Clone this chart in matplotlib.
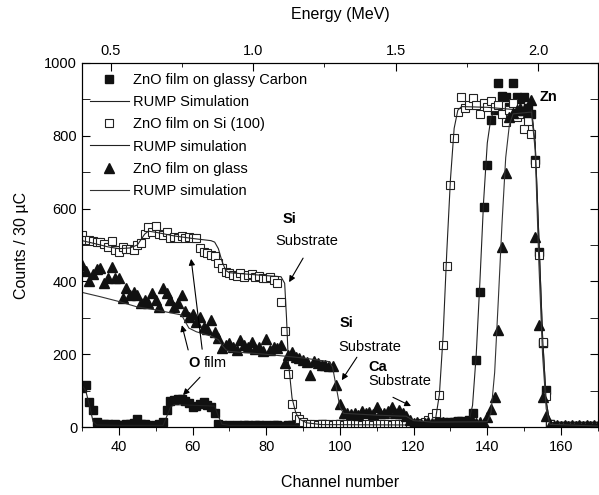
import numpy as np
import matplotlib.pyplot as plt
from matplotlib.ticker import MultipleLocator

plt.rcParams['font.family'] = ['Liberation Sans', 'DejaVu Sans']

# channel grid used by the measured spectra
channels = np.arange(30, 171)

# ZnO film on glassy carbon (filled squares), one value per channel 30..170
carbon_counts = [108, 115, 70, 47, 15, 10, 8, 10, 7, 8,
                 6, 5, 8, 10, 12, 22, 10, 8, 5, 3,
                 5, 8, 15, 47, 71, 74, 76, 78, 72, 66,
                 55, 58, 65, 69, 62, 55, 38, 8, 5, 4,
                 6, 4, 5, 3, 6, 5, 4, 6, 5, 3,
                 5, 4, 6, 5, 4, 3, 5, 6, 4, 5,
                 3, 5, 6, 4, 5, 8, 6, 5, 4, 6,
                 10, 5, 4, 6, 5, 7, 5, 4, 6, 5,
                 4, 6, 5, 7, 6, 5, 8, 6, 7, 5,
                 8, 6, 7, 9, 8, 10, 12, 15, 14, 12,
                 15, 14, 16, 18, 15, 20, 39, 184, 371, 605,
                 720, 843, 870, 945, 910, 905, 880, 945, 907, 900,
                 906, 876, 860, 733, 480, 231, 102, 10, 3, 2,
                 3, 2, 2, 3, 2, 2, 3, 2, 2, 3,
                 2]

# ZnO film on Si (100) (open squares)
si_counts = [527, 515, 513, 510, 509, 507, 503, 495, 510, 485,
             482, 495, 489, 488, 487, 500, 505, 530, 549, 535,
             552, 530, 528, 537, 518, 523, 520, 525, 520, 523,
             518, 520, 491, 482, 478, 473, 469, 450, 436, 427,
             424, 418, 415, 422, 413, 418, 420, 411, 415, 410,
             409, 411, 404, 396, 344, 264, 145, 64, 32, 22,
             15, 10, 8, 9, 7, 8, 10, 8, 7, 9,
             8, 7, 9, 8, 10, 8, 7, 9, 8, 7,
             9, 8, 10, 8, 7, 9, 8, 8, 9, 7,
             8, 9, 12, 15, 20, 28, 40, 87, 225, 442,
             665, 794, 866, 907, 876, 885, 904, 884, 861, 890,
             880, 894, 880, 885, 860, 839, 870, 890, 852, 860,
             818, 840, 805, 725, 472, 234, 86, 10, 3, 3,
             2, 3, 2, 3, 2, 3, 2, 3, 2, 3,
             2]

# ZnO film on glass (filled triangles)
glass_counts = [445, 428, 401, 420, 433, 437, 396, 410, 441, 409,
                409, 355, 381, 363, 372, 363, 340, 349, 340, 368,
                349, 330, 381, 368, 349, 331, 340, 363, 318, 303,
                312, 290, 303, 275, 270, 294, 262, 244, 217, 226,
                230, 220, 212, 239, 225, 221, 235, 215, 221, 210,
                241, 212, 221, 217, 225, 175, 198, 207, 194, 190,
                185, 178, 143, 181, 175, 172, 170, 168, 168, 115,
                65, 38, 38, 35, 40, 33, 45, 38, 42, 36,
                55, 40, 38, 45, 55, 40, 48, 38, 32, 20,
                12, 14, 10, 12, 15, 11, 13, 12, 14, 10,
                12, 14, 11, 13, 12, 15, 13, 12, 14, 12,
                28, 50, 83, 266, 495, 697, 852, 862, 870, 877,
                870, 865, 898, 523, 280, 83, 30, 5, 4, 5,
                4, 5, 4, 5, 4, 5, 4, 5, 4, 5,
                4]

# RUMP simulations, read as (channel, counts) knots along each curve
carbon_sim_ch = [30, 31, 32, 33, 34, 40, 52, 53, 54, 55, 66, 67, 68, 70, 134, 135, 136, 137,
                 138, 139, 140, 141, 142, 152, 153, 154, 155, 156, 157, 158, 170]
carbon_sim = [115, 100, 60, 15, 6, 5, 5, 30, 55, 62, 58, 30, 8, 5, 5, 15, 60, 200,
              400, 620, 780, 850, 868, 870, 780, 520, 250, 70, 10, 3, 3]

si_sim_ch = [30, 33, 37, 40, 43, 45, 46, 47, 48, 50, 55, 60, 65, 66, 67, 68, 69, 70, 75, 80,
             84, 85, 85.5, 86, 87, 88, 89, 91, 95, 120, 125, 126, 127, 128, 129, 130, 131,
             132, 133, 140, 152, 153, 154, 155, 156, 157, 158, 170]
si_sim = [512, 505, 495, 490, 492, 500, 515, 530, 538, 535, 525, 518, 512, 508, 490, 455,
          430, 424, 420, 416, 413, 395, 300, 180, 80, 40, 22, 12, 7, 6, 8, 25, 90, 250,
          480, 680, 820, 870, 880, 878, 868, 780, 520, 250, 70, 10, 3, 3]

glass_sim_ch = [30, 35, 40, 45, 50, 55, 57, 58, 59, 61, 65, 67, 68, 69, 70, 80, 90, 97, 98,
                99, 100, 101, 110, 118, 120, 125, 140, 141, 142, 143, 144, 145, 146, 147,
                152, 153, 154, 155, 156, 157, 170]
glass_sim = [370, 358, 345, 330, 322, 312, 308, 290, 272, 262, 250, 240, 225, 213, 208,
             200, 190, 180, 165, 110, 55, 38, 33, 30, 18, 14, 15, 40, 150, 350, 560, 740,
             830, 860, 865, 760, 450, 200, 50, 8, 3]


def channel_to_energy(ch):
    return 0.01293 * np.asarray(ch) + 0.0113


fig = plt.figure(figsize=(5.99, 4.95), dpi=100)
ax = fig.add_axes([0.137, 0.137, 0.861, 0.736])

ax.plot(channels, carbon_counts, 's', color='#111111', ms=5.5, ls='none',
        label='ZnO film on glassy Carbon')
ax.plot(carbon_sim_ch, carbon_sim, '-', color='#222222', lw=0.8, label='RUMP Simulation')
ax.plot(channels, si_counts, 's', mfc='white', mec='#222222', mew=0.8, ms=5.5, ls='none',
        label='ZnO film on Si (100)')
ax.plot(si_sim_ch, si_sim, '-', color='#222222', lw=0.8, label='RUMP simulation')
ax.plot(channels, glass_counts, '^', color='#111111', ms=6.5, ls='none',
        label='ZnO film on glass')
ax.plot(glass_sim_ch, glass_sim, '-', color='#333333', lw=0.8, label='RUMP simulation')

ax.set_xlim(30, 170)
ax.set_ylim(0, 1000)
ax.xaxis.set_major_locator(MultipleLocator(20))
ax.xaxis.set_minor_locator(MultipleLocator(10))
ax.yaxis.set_major_locator(MultipleLocator(200))
ax.yaxis.set_minor_locator(MultipleLocator(100))
ax.set_xticks([40, 60, 80, 100, 120, 140, 160])
ax.tick_params(axis='x', which='both', direction='out', labelsize=10.5, top=False)
ax.tick_params(axis='x', which='major', length=6)
ax.tick_params(axis='x', which='minor', length=3)
ax.tick_params(axis='y', which='both', direction='in', right=True, labelsize=10.5)
ax.tick_params(axis='y', which='major', length=6)
ax.tick_params(axis='y', which='minor', length=6)
ax.set_xlabel('Channel number', fontsize=11.5, labelpad=15)
ax.set_ylabel('Counts / 30 \u00b5C', fontsize=11.5, labelpad=11)

top = ax.twiny()
top.set_xlim(channel_to_energy(30), channel_to_energy(170))
top.xaxis.set_major_locator(MultipleLocator(0.5))
top.xaxis.set_minor_locator(MultipleLocator(0.25))
top.tick_params(axis='x', which='both', direction='in', labelsize=10.5)
top.tick_params(axis='x', which='major', length=6)
top.tick_params(axis='x', which='minor', length=3)
top.set_xticks([0.5, 1.0, 1.5, 2.0])
top.set_xticklabels(['0.5', '1.0', '1.5', '2.0'])
top.set_xlabel('Energy (MeV)', fontsize=11.5, labelpad=18)

leg = ax.legend(loc='upper left', bbox_to_anchor=(-0.005, 1.0), frameon=False, fontsize=10.5,
                handlelength=2.7, handletextpad=0.25, labelspacing=0.56, borderaxespad=0.3)

arrow = dict(arrowstyle='-|>', color='black', lw=0.8, mutation_scale=9, shrinkA=0, shrinkB=0)
ax.text(84.5, 571, 'Si', fontsize=10.5, fontweight='bold', va='center')
ax.text(82.6, 511, 'Substrate', fontsize=10.5, va='center')
ax.annotate('', xy=(86.2, 398), xytext=(90, 464), arrowprops=arrow)

ax.text(100, 286, 'Si', fontsize=10.5, fontweight='bold', va='center')
ax.text(99.7, 220, 'Substrate', fontsize=10.5, va='center')
ax.annotate('', xy=(100.5, 129), xytext=(104.6, 192), arrowprops=arrow)

ax.text(107.6, 165, 'Ca', fontsize=10.5, fontweight='bold', va='center')
ax.text(107.6, 126, 'Substrate', fontsize=10.5, va='center')
ax.annotate('', xy=(119.3, 58), xytext=(114.4, 82), arrowprops=arrow)

ax.text(154.3, 907, 'Zn', fontsize=10.5, fontweight='bold', va='center')

ax.text(58.8, 176, 'O', fontsize=10.5, fontweight='bold', va='center')
ax.text(63.1, 176, 'film', fontsize=10.5, va='center')
ax.annotate('', xy=(57.1, 280), xytext=(58.8, 212), arrowprops=arrow)
ax.annotate('', xy=(59.6, 462), xytext=(62.6, 214), arrowprops=arrow)
ax.annotate('', xy=(57.4, 88), xytext=(62, 137), arrowprops=arrow)

fig.savefig('out.png', dpi=100)
